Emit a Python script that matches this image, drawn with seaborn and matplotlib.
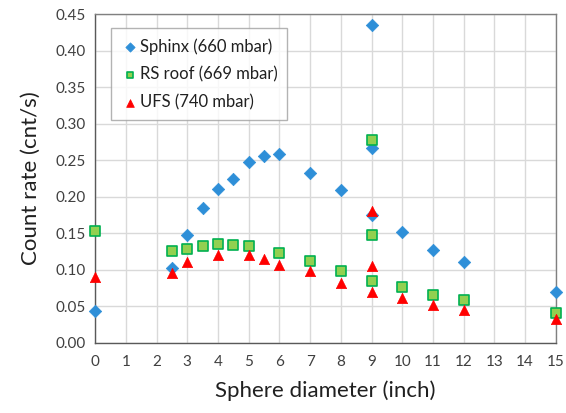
import numpy as np
import pandas as pd
import matplotlib
matplotlib.use("Agg")
import matplotlib.pyplot as plt
import seaborn as sns

# sphere diameter (inch) and count rate (cnt/s) per site
sphinx_x = [0, 2.5, 3, 3.5, 4, 4.5, 5, 5.5, 6, 7, 8, 9, 9, 9, 10, 11, 12, 15]
sphinx_y = [0.044, 0.102, 0.148, 0.185, 0.211, 0.224, 0.248, 0.255, 0.259,
            0.233, 0.209, 0.435, 0.266, 0.175, 0.151, 0.127, 0.111, 0.070]
rs_x = [0, 2.5, 3, 3.5, 4, 4.5, 5, 6, 7, 8, 9, 9, 9, 10, 11, 12, 15]
rs_y = [0.153, 0.125, 0.129, 0.132, 0.135, 0.134, 0.132, 0.123, 0.112,
        0.098, 0.278, 0.147, 0.085, 0.077, 0.066, 0.059, 0.041]
ufs_x = [0, 2.5, 3, 4, 5, 5.5, 6, 7, 8, 9, 9, 9, 10, 11, 12, 15]
ufs_y = [0.090, 0.095, 0.110, 0.120, 0.120, 0.115, 0.106, 0.098, 0.082,
         0.180, 0.105, 0.070, 0.061, 0.052, 0.045, 0.032]

sns.set_style("white")
plt.rcParams['font.family'] = ['Lato', 'DejaVu Sans']

fig, ax = plt.subplots(figsize=(5.66, 4.13), dpi=100)

sns.scatterplot(x=sphinx_x, y=sphinx_y, ax=ax, marker="D", s=40, color="#2E8FD8",
                edgecolor="#2E8FD8", linewidth=0.5, label="Sphinx (660 mbar)", zorder=3)
sns.scatterplot(x=rs_x, y=rs_y, ax=ax, marker="s", s=45, color="#92D050",
                edgecolor="#00B050", linewidth=1.2, label="RS roof (669 mbar)", zorder=3)
sns.scatterplot(x=ufs_x, y=ufs_y, ax=ax, marker="^", s=55, color="#FF0000",
                edgecolor="#FF0000", linewidth=0.5, label="UFS (740 mbar)", zorder=3)

ax.set_xlim(0, 15)
ax.set_ylim(0, 0.45)
ax.set_xticks(np.arange(0, 16, 1))
ax.set_yticks(np.arange(0, 0.46, 0.05))
ax.set_yticklabels([f"{v:.2f}" for v in np.arange(0, 0.46, 0.05)])
ax.grid(True, color="#D9D9D9", linewidth=1)
ax.set_axisbelow(True)
for side in ["top", "right", "left", "bottom"]:
    ax.spines[side].set_visible(True)
    ax.spines[side].set_color("#808080")
    ax.spines[side].set_linewidth(1)
ax.spines["left"].set_color("#595959")
ax.spines["bottom"].set_color("#595959")
ax.tick_params(axis="both", colors="#404040", labelsize=11, length=6,
               direction="inout", width=1)
ax.tick_params(axis="y", color="#595959", pad=4)
ax.tick_params(axis="x", color="#595959", pad=6)
for c in ax.collections:
    c.set_clip_on(False)

ax.set_xlabel("Sphere diameter (inch)", fontsize=16, color="#202020", labelpad=8)
ax.set_ylabel("Count rate (cnt/s)", fontsize=16, color="#202020", labelpad=10)

leg = ax.legend(loc="upper left", bbox_to_anchor=(0.035, 0.957), borderaxespad=0,
                fontsize=12, frameon=True, fancybox=False, edgecolor="#A0A0A0",
                handletextpad=0.1, handlelength=1.0, borderpad=0.6,
                labelspacing=0.7, markerscale=0.75)
leg.get_frame().set_linewidth(1)
for t in leg.get_texts():
    t.set_color("#202020")

plt.subplots_adjust(left=0.168, right=0.982, top=0.966, bottom=0.17)
plt.savefig("out.png", dpi=100)
